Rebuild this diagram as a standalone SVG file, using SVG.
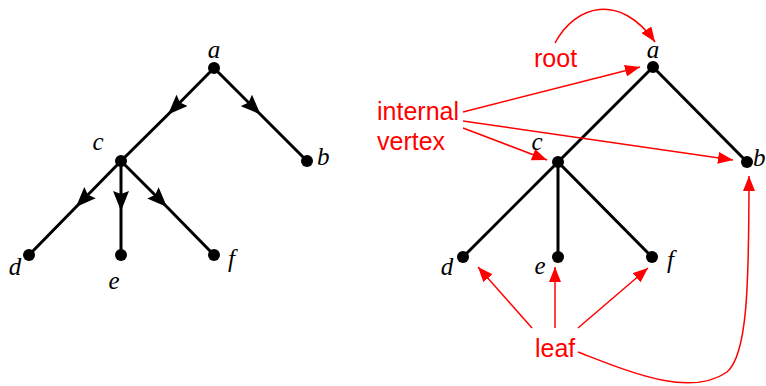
<svg xmlns="http://www.w3.org/2000/svg" width="766" height="386" viewBox="0 0 766 386">
<style>
.e{stroke:#000;stroke-width:3;fill:none}
.v{fill:#000}
.lb{font-family:"Liberation Serif","Times New Roman",serif;font-style:italic;font-size:25px;fill:#000}
.rl{font-family:"Liberation Sans",Arial,sans-serif;font-size:25px;fill:#ff0000}
.ra{stroke:#ff0000;stroke-width:1.5;fill:none}
</style>
<defs>
<marker id="bh" markerUnits="userSpaceOnUse" viewBox="0 0 20 16" markerWidth="20" markerHeight="16" refX="20" refY="8" orient="auto">
<path d="M0,0 L20,8 L0,16 L3,8 z" fill="#000"/>
</marker>
<marker id="rh" markerUnits="userSpaceOnUse" viewBox="0 0 15 12" markerWidth="15" markerHeight="12" refX="15" refY="6" orient="auto">
<path d="M0,0 L15,6 L0,12 z" fill="#ff0000"/>
</marker>
</defs>
<g id="connectors">
<polyline class="e" points="214,68 168,114.5 121,161" marker-mid="url(#bh)"/>
<polyline class="e" points="214,68 260.5,114.5 307,161" marker-mid="url(#bh)"/>
<polyline class="e" points="121,161 76,207 29,255" marker-mid="url(#bh)"/>
<polyline class="e" points="121,161 121,211 121,255" marker-mid="url(#bh)"/>
<polyline class="e" points="121,161 167,207 214,255" marker-mid="url(#bh)"/>
<line class="e" x1="653" y1="67" x2="558" y2="162"/>
<line class="e" x1="653" y1="67" x2="747" y2="162"/>
<line class="e" x1="558" y1="162" x2="463" y2="257"/>
<line class="e" x1="558" y1="162" x2="558" y2="257"/>
<line class="e" x1="558" y1="162" x2="652" y2="257"/>
<path class="ra" d="M555,43 C575,5 620,-8 655,42" marker-end="url(#rh)"/>
<line class="ra" x1="463" y1="112" x2="640" y2="67" marker-end="url(#rh)"/>
<line class="ra" x1="463" y1="121" x2="733" y2="160" marker-end="url(#rh)"/>
<line class="ra" x1="463" y1="128" x2="547" y2="160" marker-end="url(#rh)"/>
<line class="ra" x1="532" y1="328" x2="478" y2="267" marker-end="url(#rh)"/>
<line class="ra" x1="555" y1="328" x2="555" y2="267" marker-end="url(#rh)"/>
<line class="ra" x1="578" y1="328" x2="648" y2="268" marker-end="url(#rh)"/>
<path class="ra" d="M578,352 C630,372 690,398 727,372 C747,355 749,290 749,176" marker-end="url(#rh)"/>
</g>
<g id="L-a"><circle class="v" cx="214" cy="68" r="6"/><text class="lb" x="214" y="58" text-anchor="middle">a</text></g>
<g id="L-b"><circle class="v" cx="307" cy="161" r="6"/><text class="lb" x="317" y="165">b</text></g>
<g id="L-c"><circle class="v" cx="121" cy="161" r="6"/><text class="lb" x="98" y="150" text-anchor="middle">c</text></g>
<g id="L-d"><circle class="v" cx="29" cy="255" r="6"/><text class="lb" x="15" y="275" text-anchor="middle">d</text></g>
<g id="L-e"><circle class="v" cx="121" cy="255" r="6"/><text class="lb" x="114" y="289" text-anchor="middle">e</text></g>
<g id="L-f"><circle class="v" cx="214" cy="255" r="6"/><text class="lb" x="228" y="267">f</text></g>
<g id="R-a"><circle class="v" cx="653" cy="67" r="6"/><text class="lb" x="653" y="58" text-anchor="middle">a</text></g>
<g id="R-b"><circle class="v" cx="747" cy="162" r="6"/><text class="lb" x="753" y="166">b</text></g>
<g id="R-c"><circle class="v" cx="558" cy="162" r="6"/><text class="lb" x="537" y="150" text-anchor="middle">c</text></g>
<g id="R-d"><circle class="v" cx="463" cy="257" r="6"/><text class="lb" x="447" y="275" text-anchor="middle">d</text></g>
<g id="R-e"><circle class="v" cx="558" cy="257" r="6"/><text class="lb" x="540" y="274" text-anchor="middle">e</text></g>
<g id="R-f"><circle class="v" cx="652" cy="257" r="6"/><text class="lb" x="667" y="268">f</text></g>
<g id="lbl-root"><text class="rl" x="534" y="67">root</text></g>
<g id="lbl-internal"><text class="rl" x="377" y="120">internal</text><text class="rl" x="377" y="150">vertex</text></g>
<g id="lbl-leaf"><text class="rl" x="535" y="357">leaf</text></g>
</svg>
